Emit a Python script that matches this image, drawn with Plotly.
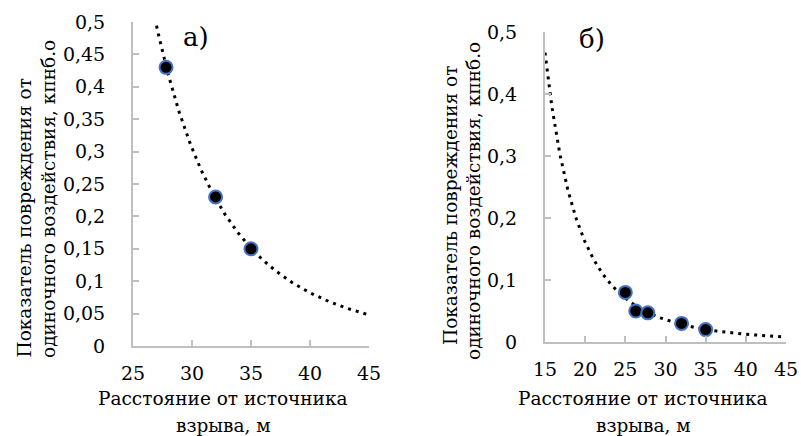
import numpy as np
import plotly.graph_objects as go

# ---- data ----
a_dist = [27.8, 32.0, 35.0]
a_k = [0.43, 0.23, 0.15]

b_dist = [25.0, 26.3, 27.8, 32.0, 35.0]
b_k = [0.08, 0.05, 0.047, 0.03, 0.02]

a_xticks = [25, 30, 35, 40, 45]
a_yticks = [0, 0.05, 0.1, 0.15, 0.2, 0.25, 0.3, 0.35, 0.4, 0.45, 0.5]
a_ytext = ["0", "0,05", "0,1", "0,15", "0,2", "0,25", "0,3", "0,35", "0,4", "0,45", "0,5"]

b_xticks = [15, 20, 25, 30, 35, 40, 45]
b_yticks = [0, 0.1, 0.2, 0.3, 0.4, 0.5]
b_ytext = ["0", "0,1", "0,2", "0,3", "0,4", "0,5"]

x_title_1 = "Расстояние от источника"
x_title_2 = "взрыва, м"
y_title_1 = "Показатель повреждения от"
y_title_2 = "одиночного воздействия, кпнб.о"

W, H = 801, 436
FONT = "DejaVu Serif"
AXC = "#bfbfbf"


def power_trend(xs, ys, x0, x1):
    b, ln_a = np.polyfit(np.log(xs), np.log(ys), 1)
    xx = np.linspace(x0, x1, 300)
    return xx, np.exp(ln_a) * xx ** b


fig = go.Figure()

ax_t, ay_t = power_trend(a_dist, a_k, 25, 45)
bx_t, by_t = power_trend(b_dist, b_k, 15, 45)

line_style = dict(color="black", width=3, dash="3px,5px")
marker_style = dict(size=13, color="black", line=dict(color="#4472C4", width=2))

fig.add_trace(go.Scatter(x=ax_t, y=ay_t, mode="lines", line=line_style,
                         xaxis="x", yaxis="y", hoverinfo="skip"))
fig.add_trace(go.Scatter(x=a_dist, y=a_k, mode="markers", marker=marker_style,
                         xaxis="x", yaxis="y", cliponaxis=False))
fig.add_trace(go.Scatter(x=bx_t, y=by_t, mode="lines", line=line_style,
                         xaxis="x2", yaxis="y2", hoverinfo="skip"))
fig.add_trace(go.Scatter(x=b_dist, y=b_k, mode="markers", marker=marker_style,
                         xaxis="x2", yaxis="y2", cliponaxis=False))


def px(x):
    return x / W


def py(y):
    return 1 - y / H


axis_common = dict(showline=True, linecolor=AXC, linewidth=2, showgrid=False,
                   zeroline=False, ticks="inside", ticklen=6, tickcolor=AXC,
                   tickwidth=1.5, automargin=False,
                   tickfont=dict(family=FONT, size=19, color="black"))

fig.update_layout(
    template="none",
    width=W, height=H,
    margin=dict(l=0, r=0, t=0, b=0, pad=0),
    paper_bgcolor="white", plot_bgcolor="white",
    showlegend=False,
    separators=", ",
    font=dict(family=FONT, color="black"),
    xaxis=dict(domain=[px(133), px(369)], range=[25, 45], tickvals=a_xticks,
               anchor="y", ticklabelstandoff=9, **axis_common),
    yaxis=dict(domain=[py(346), py(22)], range=[0, 0.5], tickvals=a_yticks,
               ticktext=a_ytext, anchor="x", ticklabelstandoff=22, **axis_common),
    xaxis2=dict(domain=[px(545), px(786)], range=[15, 45], tickvals=b_xticks,
                anchor="y2", ticklabelstandoff=9, **axis_common),
    yaxis2=dict(domain=[py(342), py(32)], range=[0, 0.5], tickvals=b_yticks,
                ticktext=b_ytext, anchor="x2", ticklabelstandoff=22, **axis_common),
)

ann = []


def add_text(text, x, y, size, angle=0):
    ann.append(dict(text=text, x=px(x), y=py(y), xref="paper", yref="paper",
                    xanchor="center", yanchor="middle", showarrow=False,
                    textangle=angle, font=dict(family=FONT, size=size, color="black")))


add_text("а)", 196, 37, 26)
add_text("б)", 592, 39, 26)
add_text(x_title_1, 223, 398, 18.5)
add_text(x_title_2, 223, 425, 18.5)
add_text(x_title_1, 643, 398, 18.5)
add_text(x_title_2, 643, 425, 18.5)
add_text(y_title_1, 23.5, 218, 18.5, -90)
add_text(y_title_2, 48, 199, 18.5, -90)
add_text(y_title_1, 450, 205, 18.5, -90)
add_text(y_title_2, 473, 201, 18.5, -90)

fig.update_layout(annotations=ann)

fig.write_html("out.html",
               config={"displayModeBar": False},
               post_script="document.body.style.margin='0';document.body.style.padding='0';")
